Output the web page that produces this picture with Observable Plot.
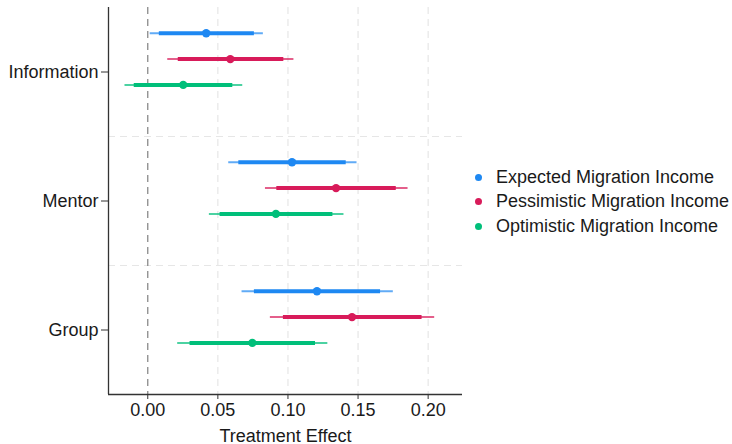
<!DOCTYPE html>
<html>
<head>
<meta charset="utf-8">
<script src="https://cdn.jsdelivr.net/npm/d3@7"></script>
<script src="https://cdn.jsdelivr.net/npm/@observablehq/plot@0.6"></script>
<style>
  html, body { margin: 0; padding: 0; background: #fff; }
  #wrap { position: relative; width: 732px; height: 444px; font-family: "Liberation Sans", Arial, sans-serif; }
  #legend { position: absolute; left: 470px; top: 165px; font-size: 18px; color: #1a1a1a; }
  #legend .row { display: flex; align-items: center; height: 24.6px; }
  #legend .dot { width: 7px; height: 7px; border-radius: 50%; margin-left: 5px; margin-right: 14px; }
</style>
</head>
<body>
<div id="wrap"><div id="legend"></div></div>
<script>
// ---- data ----
const groups = ["Information", "Mentor", "Group"];
const series = ["Expected Migration Income", "Pessimistic Migration Income", "Optimistic Migration Income"];
const colors = ["#1E88F2", "#D81B5A", "#00BF7A"];
// per group, per series: [lo95, lo90, estimate, hi90, hi95]
const informationCI = [
  [0.0014, 0.0079, 0.0417, 0.0757, 0.0821],
  [0.0139, 0.0214, 0.0589, 0.0967, 0.1039],
  [-0.0166, -0.0100, 0.0253, 0.0603, 0.0674]
];
const mentorCI = [
  [0.0574, 0.0646, 0.1029, 0.1412, 0.1489],
  [0.0836, 0.0917, 0.1343, 0.1769, 0.1853],
  [0.0436, 0.0512, 0.0914, 0.1317, 0.1396]
];
const groupCI = [
  [0.0669, 0.0757, 0.1207, 0.1657, 0.1748],
  [0.0871, 0.0964, 0.1457, 0.1953, 0.2043],
  [0.0210, 0.0298, 0.0746, 0.1193, 0.1281]
];
const xTicks = [0, 0.05, 0.10, 0.15, 0.20];

// ---- build table ----
const ciByGroup = [informationCI, mentorCI, groupCI];
const rows = [];
groups.forEach((g, gi) => {
  ciByGroup[gi].forEach((v, si) => {
    rows.push({
      group: g,
      series: series[si],
      ypos: (groups.length - gi) + 0.3 - 0.2 * si, // dodge within group band
      lo95: v[0], lo90: v[1], est: v[2], hi90: v[3], hi95: v[4]
    });
  });
});

const xDomain = [-0.028, 0.2245];
const yDomain = [0.5, groups.length + 0.5];
const groupPos = groups.map((g, i) => groups.length - i);
const separators = d3.range(1.5, groups.length, 1);

const chart = Plot.plot({
  width: 732,
  height: 444,
  marginLeft: 108,
  marginRight: 270,
  marginTop: 7,
  marginBottom: 50,
  style: { fontFamily: "Liberation Sans, Arial, sans-serif", fontSize: "18px", color: "#1a1a1a", background: "transparent" },
  x: { domain: xDomain },
  y: { domain: yDomain },
  color: { domain: series, range: colors },
  marks: [
    Plot.ruleX(xTicks.slice(1), { stroke: "#e6e6e6", strokeWidth: 1.2, strokeDasharray: "7,5" }),
    Plot.ruleY(separators, { stroke: "#e6e6e6", strokeWidth: 1.2, strokeDasharray: "7,5" }),
    Plot.ruleX([0], { stroke: "#8a8a8a", strokeWidth: 1.3, strokeDasharray: "7,5" }),
    Plot.link(rows, { x1: "lo95", x2: "hi95", y1: "ypos", y2: "ypos", stroke: "series", strokeWidth: 2, strokeOpacity: 0.7 }),
    Plot.link(rows, { x1: "lo90", x2: "hi90", y1: "ypos", y2: "ypos", stroke: "series", strokeWidth: 4 }),
    Plot.dot(rows, { x: "est", y: "ypos", fill: "series", r: 4.2 }),
    Plot.ruleX([xDomain[0]], { stroke: "#333", strokeWidth: 1.3 }),
    Plot.ruleY([yDomain[0]], { stroke: "#333", strokeWidth: 1.3 }),
    Plot.axisX({ ticks: xTicks, tickFormat: d3.format(".2f"), tickSize: 5, tickPadding: 4, fontSize: 18, stroke: "#333",
                 label: "Treatment Effect", labelAnchor: "center", labelOffset: 47, labelArrow: "none" }),
    Plot.axisY({ ticks: groupPos, tickFormat: d => groups[groups.length - d], tickSize: 7, tickPadding: 3, fontSize: 18, stroke: "#333", label: null })
  ]
});
document.getElementById("wrap").prepend(chart);
chart.style.position = "absolute";
chart.style.left = "0px";
chart.style.top = "0px";

const legend = document.getElementById("legend");
series.forEach((s, i) => {
  const row = document.createElement("div");
  row.className = "row";
  const dot = document.createElement("span");
  dot.className = "dot";
  dot.style.background = colors[i];
  const label = document.createElement("span");
  label.textContent = s;
  row.append(dot, label);
  legend.append(row);
});
</script>
</body>
</html>
